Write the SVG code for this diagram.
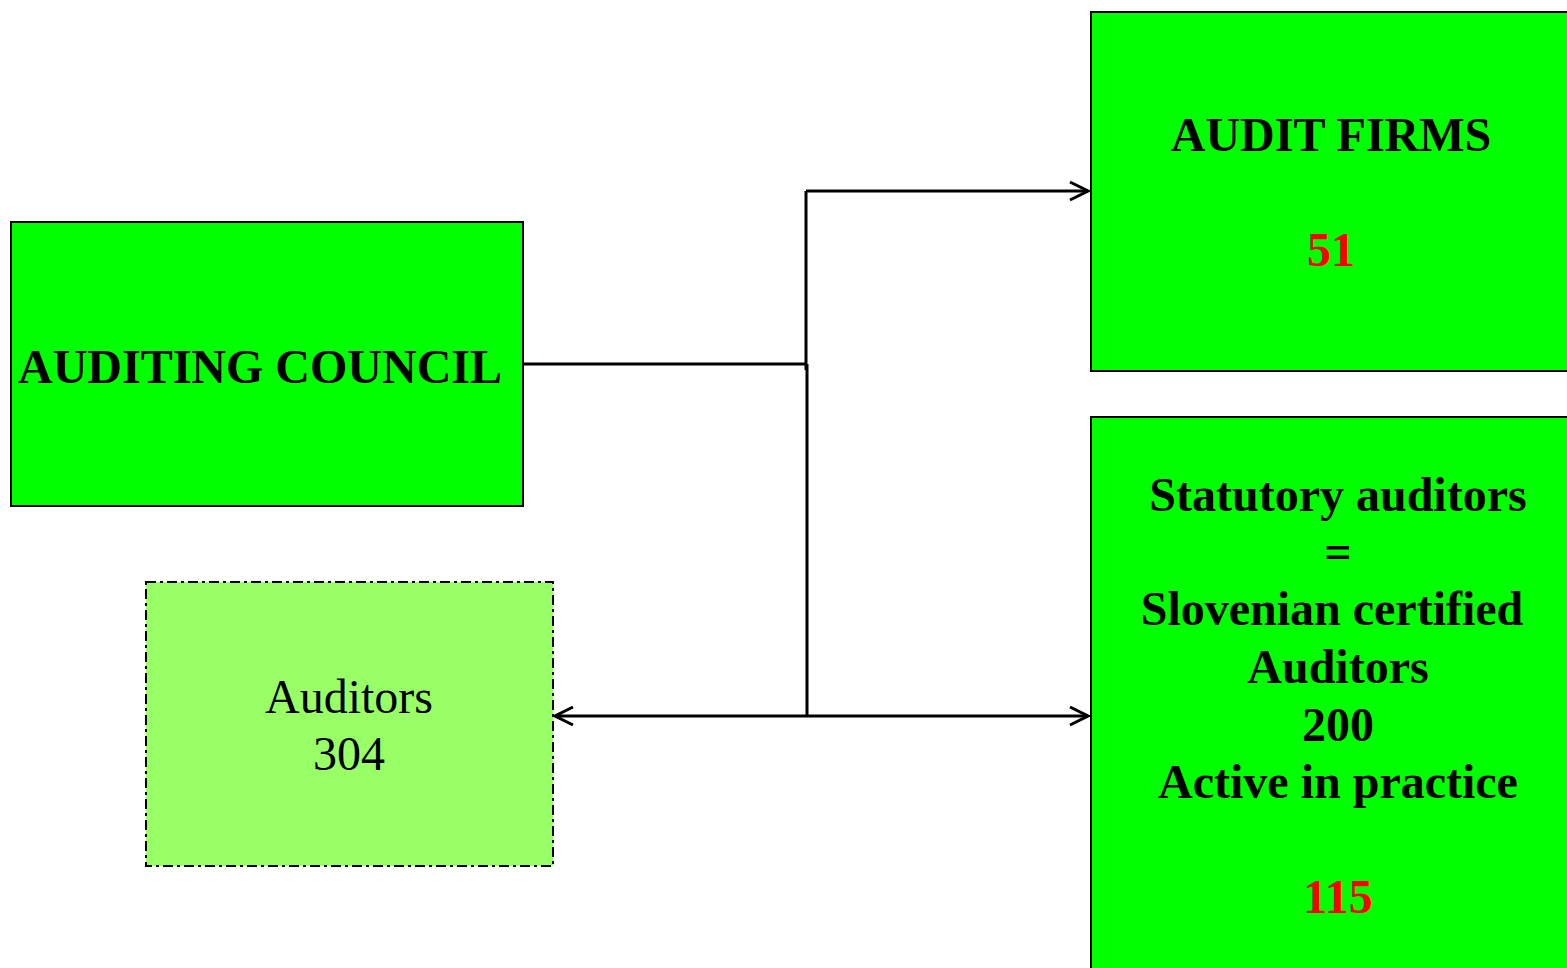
<svg xmlns="http://www.w3.org/2000/svg" width="1567" height="968" viewBox="0 0 1567 968">
<style>
.box{fill:#00ff00;stroke:#000;stroke-width:2}
.dash{fill:#99ff66;stroke:#000;stroke-width:2;stroke-dasharray:10,4,3,4}
.t{font-family:"Liberation Serif",serif;font-size:48px;text-anchor:middle;fill:#000}
.b{font-weight:bold}
.r{fill:#ff0000}
.ln{fill:none;stroke:#000;stroke-width:3}
</style>
<defs>
<marker id="ah" viewBox="0 0 24 24" refX="21" refY="12" markerWidth="24" markerHeight="24" markerUnits="userSpaceOnUse" orient="auto-start-reverse">
<path d="M3,3 L21,12 L3,21" fill="none" stroke="#000" stroke-width="3"/>
</marker>
</defs>
<g id="connectors">
<path class="ln" d="M523,364 H806"/>
<path class="ln" d="M806,191 V370"/>
<path class="ln" d="M807,364 V716"/>
<path class="ln" d="M806,191 H1088" marker-end="url(#ah)"/>
<path class="ln" d="M555,716 H1088" marker-start="url(#ah)" marker-end="url(#ah)"/>
</g>
<g id="auditing-council">
<rect class="box" x="11" y="222" width="512" height="284"/>
<text class="t b" x="260" y="383">AUDITING COUNCIL</text>
</g>
<g id="auditors">
<rect class="dash" x="146" y="582" width="407" height="284"/>
<text class="t" x="349" y="713">Auditors</text>
<text class="t" x="349" y="770">304</text>
</g>
<g id="audit-firms">
<rect class="box" x="1091" y="12" width="490" height="359"/>
<text class="t b" x="1331" y="151">AUDIT FIRMS</text>
<text class="t b r" x="1331" y="266">51</text>
</g>
<g id="statutory-auditors">
<rect class="box" x="1091" y="417" width="490" height="570"/>
<text class="t b" x="1338" y="511">Statutory auditors</text>
<text class="t b" x="1338" y="568">=</text>
<text class="t b" x="1332" y="625">Slovenian certified</text>
<text class="t b" x="1338" y="683">Auditors</text>
<text class="t b" x="1338" y="741">200</text>
<text class="t b" x="1338" y="798">Active in practice</text>
<text class="t b r" x="1338" y="913">115</text>
</g>
</svg>
